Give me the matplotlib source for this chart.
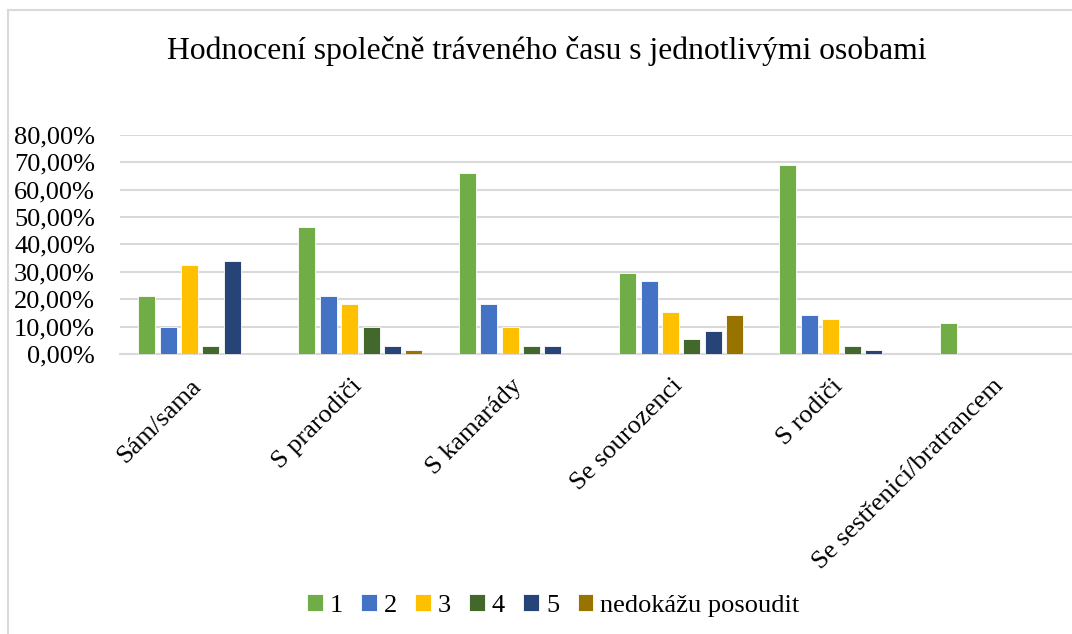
import numpy as np
import matplotlib.pyplot as plt
from matplotlib.lines import Line2D
from matplotlib.transforms import ScaledTranslation

plt.rcParams['font.family'] = ['Liberation Serif', 'DejaVu Serif']

categories = ['Sám/sama', 'S prarodiči', 'S kamarády', 'Se sourozenci', 'S rodiči',
              'Se sestřenicí/bratrancem']
series_names = ['1', '2', '3', '4', '5', 'nedokážu posoudit']
v1 = [21.1, 46.5, 66.2, 29.6, 69.0, 11.3]
v2 = [9.9, 21.1, 18.3, 26.8, 14.1, 0]
v3 = [32.4, 18.3, 9.9, 15.5, 12.7, 0]
v4 = [2.8, 9.9, 2.8, 5.6, 2.8, 0]
v5 = [33.8, 2.8, 2.8, 8.5, 1.4, 0]
v6 = [0, 1.4, 0, 14.1, 0, 0]
colors = ['#70AD47', '#4472C4', '#FFC000', '#43682B', '#264478', '#997300']

values = [v1, v2, v3, v4, v5, v6]

fig = plt.figure(figsize=(10.72, 6.34), dpi=100)
ax = fig.add_axes([0.1119, 0.4416, 0.8974, 0.3457])

x = np.arange(len(categories))
step = 0.1335
width = 0.106
for i, (vals, c, name) in enumerate(zip(values, colors, series_names)):
    ax.bar(x + (i - 2.5) * step, np.array(vals) / 100, width=width, color=c,
           label=name, zorder=3, edgecolor='white', linewidth=0.6)

ax.set_xlim(-0.5, len(categories) - 0.5)
ax.set_ylim(0, 0.8)
ax.set_yticks(np.arange(0, 0.81, 0.1))
ax.set_yticklabels([f'{t:.2f}'.replace('.', ',') + '%' for t in np.arange(0, 81, 10)],
                   fontsize=19)
ax.yaxis.grid(True, color='#D9D9D9', linewidth=1.5, zorder=0)
ax.tick_params(axis='y', length=0, pad=18)
ax.tick_params(axis='x', length=0, pad=15)
for s in ['top', 'right', 'left']:
    ax.spines[s].set_visible(False)
ax.spines['bottom'].set_color('#D9D9D9')
ax.spines['bottom'].set_linewidth(1.5)

ax.set_xticks(x)
ax.set_xticklabels(categories, rotation=45, ha='right', rotation_mode='anchor', fontsize=19)
shift = ScaledTranslation(-10 / 100, 0, fig.dpi_scale_trans)
for lbl in ax.get_xticklabels():
    lbl.set_transform(lbl.get_transform() + shift)

fig.text(0.510, 1 - 59 / 634, 'Hodnocení společně tráveného času s jednotlivými osobami',
         ha='center', va='baseline', fontsize=22.8)

fig.legend(loc='center', bbox_to_anchor=(0.516, 0.045), ncol=6, frameon=False, fontsize=19,
           handlelength=0.6, handleheight=0.6, handletextpad=0.25, columnspacing=0.7)

# chart frame (only top and left edges are visible in the crop)
fig.add_artist(Line2D([8 / 1072, 1], [1 - 10 / 634, 1 - 10 / 634], transform=fig.transFigure,
                      color='#D9D9D9', linewidth=1.5))
fig.add_artist(Line2D([8 / 1072, 8 / 1072], [0, 1 - 10 / 634], transform=fig.transFigure,
                      color='#D9D9D9', linewidth=1.5))

fig.savefig('out.png', dpi=100)
